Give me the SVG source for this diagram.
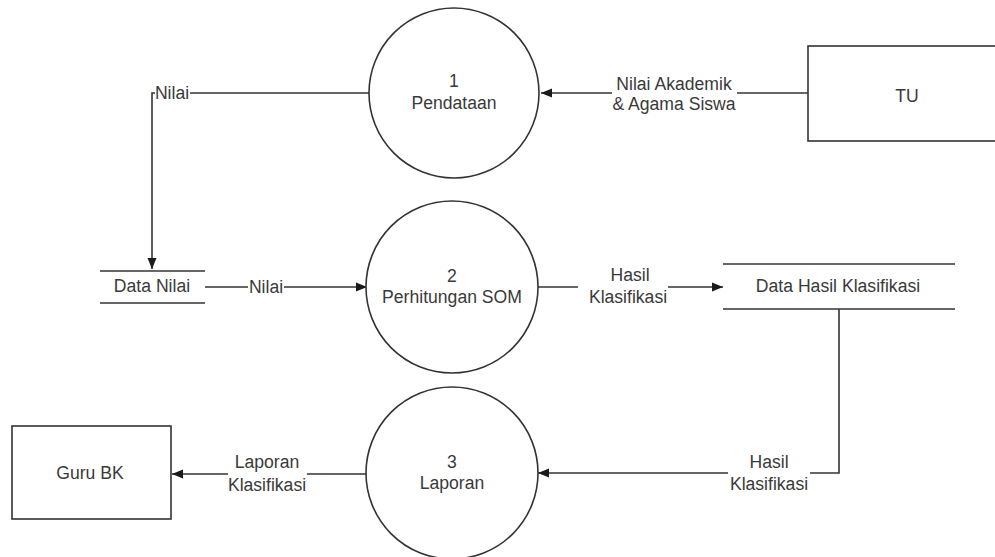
<svg xmlns="http://www.w3.org/2000/svg" width="995" height="557" viewBox="0 0 995 557">
<defs>
<marker id="arr" markerUnits="userSpaceOnUse" markerWidth="12" markerHeight="10" refX="11" refY="5" orient="auto">
<path d="M0,0.5 L11,5 L0,9.5 Z" fill="#1a1a1a"/>
</marker>
<style>
.shape{fill:#fff;stroke:#333;stroke-width:1.6}
.ln{fill:none;stroke:#333;stroke-width:1.6}
.t{font-family:"Liberation Sans",Arial,sans-serif;font-size:17.6px;fill:#3a3a3a;text-anchor:middle}
.bg{fill:#fff}
</style>
</defs>
<rect width="995" height="557" fill="#fff"/>
<g id="connectors">
<path class="ln" d="M369,93 H152 V269" marker-end="url(#arr)"/>
<rect class="bg" x="155" y="83" width="35" height="20"/>
<text class="t" x="172" y="99">Nilai</text>
<path class="ln" d="M808,93 H541" marker-end="url(#arr)"/>
<rect class="bg" x="612" y="76" width="125" height="40"/>
<text class="t" x="674" y="90">Nilai Akademik</text>
<text class="t" x="674" y="110">&amp; Agama Siswa</text>
<path class="ln" d="M205,287 H367" marker-end="url(#arr)"/>
<rect class="bg" x="248" y="278" width="36" height="18"/>
<text class="t" x="266" y="293">Nilai</text>
<path class="ln" d="M538,287 H723" marker-end="url(#arr)"/>
<rect class="bg" x="578" y="264" width="90" height="42"/>
<text class="t" x="630" y="281">Hasil</text>
<text class="t" x="628" y="303">Klasifikasi</text>
<path class="ln" d="M839,309 V473 H538" marker-end="url(#arr)"/>
<rect class="bg" x="728" y="452" width="82" height="42"/>
<text class="t" x="769" y="468">Hasil</text>
<text class="t" x="769" y="490">Klasifikasi</text>
<path class="ln" d="M366,474 H172" marker-end="url(#arr)"/>
<rect class="bg" x="228" y="452" width="79" height="42"/>
<text class="t" x="267" y="468">Laporan</text>
<text class="t" x="267" y="491">Klasifikasi</text>
</g>
<g id="p1">
<circle class="shape" cx="454" cy="93" r="85"/>
<text class="t" x="454" y="87">1</text>
<text class="t" x="454" y="109">Pendataan</text>
</g>
<g id="p2">
<circle class="shape" cx="452" cy="287" r="86"/>
<text class="t" x="452" y="282">2</text>
<text class="t" x="452" y="303">Perhitungan SOM</text>
</g>
<g id="p3">
<circle class="shape" cx="452" cy="473" r="86"/>
<text class="t" x="452" y="468">3</text>
<text class="t" x="452" y="489">Laporan</text>
</g>
<g id="tu">
<rect class="shape" x="808" y="46" width="200" height="95"/>
<text class="t" x="907" y="102">TU</text>
</g>
<g id="gurubk">
<rect class="shape" x="12" y="426" width="159" height="93"/>
<text class="t" x="90" y="479">Guru BK</text>
</g>
<g id="datanilai">
<line class="ln" x1="100" y1="271" x2="205" y2="271"/>
<line class="ln" x1="100" y1="303" x2="205" y2="303"/>
<text class="t" x="152" y="292">Data Nilai</text>
</g>
<g id="datahasil">
<line class="ln" x1="723" y1="264" x2="955" y2="264"/>
<line class="ln" x1="723" y1="309" x2="955" y2="309"/>
<text class="t" x="838" y="292">Data Hasil Klasifikasi</text>
</g>
</svg>
